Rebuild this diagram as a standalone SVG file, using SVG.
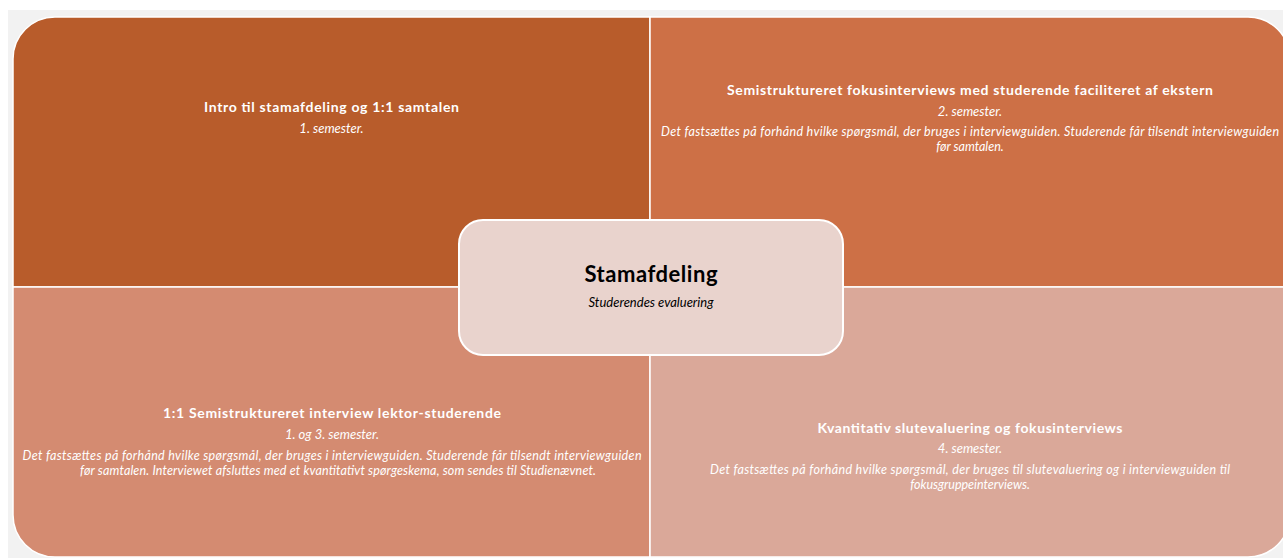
<svg xmlns="http://www.w3.org/2000/svg" width="1283" height="558" viewBox="0 0 1283 558">
<style>
.q{stroke:#ffffff;stroke-width:1.5}
.t{font-family:Lato,"Open Sans","Liberation Sans",sans-serif;font-weight:bold;font-size:14px;fill:#ffffff;text-anchor:middle}
.s{font-family:Lato,"Open Sans","Liberation Sans",sans-serif;font-style:italic;font-size:13px;fill:#ffffff;text-anchor:middle}
.b{font-family:Lato,"Open Sans","Liberation Sans",sans-serif;font-style:italic;font-size:12.5px;fill:#ffffff;text-anchor:middle}
.ct{font-family:Lato,"Open Sans","Liberation Sans",sans-serif;font-weight:bold;font-size:22px;fill:#000000;text-anchor:middle}
.cs{font-family:Lato,"Open Sans","Liberation Sans",sans-serif;font-style:italic;font-size:13px;fill:#000000;text-anchor:middle}
</style>
<rect x="0" y="0" width="1283" height="558" fill="#ffffff"/>
<rect x="8" y="10" width="1275" height="548" fill="#f2f2f2"/>
<g id="node-tl">
<path class="q" fill="#b85c2b" d="M13,287 V59 A42,42 0 0 1 55,17 H650 V287 Z"/>
<text class="t" x="331.5" y="112" textLength="255">Intro til stamafdeling og 1:1 samtalen</text>
<text class="s" x="331.5" y="133">1. semester.</text>
</g>
<g id="node-tr">
<path class="q" fill="#cd7046" d="M650,17 H1248 A42,42 0 0 1 1290,59 V287 H650 Z"/>
<text class="t" x="970" y="95" textLength="486">Semistruktureret fokusinterviews med studerende faciliteret af ekstern</text>
<text class="s" x="970" y="116">2. semester.</text>
<text class="b" x="970" y="136" textLength="618">Det fastsættes på forhånd hvilke spørgsmål, der bruges i interviewguiden. Studerende får tilsendt interviewguiden</text>
<text class="b" x="970" y="151">før samtalen.</text>
</g>
<g id="node-bl">
<path class="q" fill="#d48b71" d="M13,287 H650 V557 H55 A42,42 0 0 1 13,515 Z"/>
<text class="t" x="332" y="418" textLength="338">1:1 Semistruktureret interview lektor-studerende</text>
<text class="s" x="332" y="439">1. og 3. semester.</text>
<text class="b" x="332" y="460" textLength="619">Det fastsættes på forhånd hvilke spørgsmål, der bruges i interviewguiden. Studerende får tilsendt interviewguiden</text>
<text class="b" x="338" y="475" textLength="516">før samtalen. Interviewet afsluttes med et kvantitativt spørgeskema, som sendes til Studienævnet.</text>
</g>
<g id="node-br">
<path class="q" fill="#daa899" d="M650,287 H1290 V515 A42,42 0 0 1 1248,557 H650 Z"/>
<text class="t" x="970" y="433" textLength="305">Kvantitativ slutevaluering og fokusinterviews</text>
<text class="s" x="970" y="453">4. semester.</text>
<text class="b" x="970" y="474" textLength="520">Det fastsættes på forhånd hvilke spørgsmål, der bruges til slutevaluering og i interviewguiden til</text>
<text class="b" x="970" y="489">fokusgruppeinterviews.</text>
</g>
<g id="node-center">
<rect x="459" y="220" width="384" height="135" rx="24" ry="24" fill="#e9d3cd" stroke="#ffffff" stroke-width="2"/>
<text class="ct" x="651" y="282" textLength="133">Stamafdeling</text>
<text class="cs" x="651" y="307">Studerendes evaluering</text>
</g>
<g id="connectors"/>
</svg>
